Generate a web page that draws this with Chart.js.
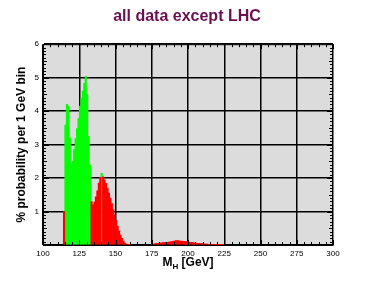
<!DOCTYPE html>
<html>
<head>
<meta charset="utf-8">
<script src="https://cdn.jsdelivr.net/npm/chart.js@4.4.1/dist/chart.umd.min.js"></script>
<style>
html,body{margin:0;padding:0;background:#fff;}
#c{display:block;}
</style>
</head>
<body>
<canvas id="c" width="374" height="289"></canvas>
<script>
// ---- data (bin lower edges in GeV, % probability per 1 GeV bin) ----
const binStart = [114,115,116,117,118,119,120,121,122,123,124,125,126,127,128,129,130,131,132,133,134,135,136,137,138,139,140,141,142,143,144,145,146,147,148,149,150,151,152,153,154,155,156,157,158,159,
  175,176,177,178,179,180,181,182,183,184,185,186,187,188,189,190,191,192,193,194,195,196,197,198,199,200,201,202,203,204,205,206,207,208,209,210,211,212,213,214,215,216,217,218,219,220,221,222,223,224];
const redProb = [1.0,null,null,null,null,null,null,null,null,null,null,null,null,null,null,null,null,null,null,1.3,1.2,1.28,1.44,1.62,1.85,2.02,null,2.04,1.95,1.84,1.7,1.55,1.4,1.24,1.06,0.9,0.74,0.56,0.42,0.3,0.2,0.12,0.06,0.03,0.015,0.01,
  0.02,0.03,0.04,0.05,0.05,0.06,0.06,0.07,0.07,0.08,0.08,0.09,0.09,0.1,0.11,0.12,0.13,0.13,0.13,0.12,0.12,0.11,0.11,0.1,0.1,0.09,0.08,0.08,0.07,0.06,0.06,0.05,0.05,0.04,0.04,0.04,0.03,0.03,0.03,0.02,0.02,0.02,0.02,0.01,0.01,0.01,0.01,0.01,0.005,0.005];
const greenProb = [null,3.58,4.2,4.15,3.2,2.4,2.5,2.85,3.18,3.48,3.78,4.15,4.38,4.6,4.83,5.04,4.5,3.25,2.39,null,null,null,null,null,null,null,2.14,null,null,null,null,null,null,null,null,null,null,null,null,null,null,null,null,null,null,null,
  null,null,null,null,null,null,null,null,null,null,null,null,null,null,null,null,null,null,null,null,null,null,null,null,null,null,null,null,null,null,null,null,null,null,null,null,null,null,null,null,null,null,null,null,null,null,null,null,null,null];
const xTicks = [100,125,150,175,200,225,250,275,300];
const yTicks = [0,1,2,3,4,5,6];

const redPts = [], greenPts = [];
binStart.forEach((b,i)=>{
  redPts.push({x:b+0.5, y:redProb[i]});
  greenPts.push({x:b+0.5, y:greenProb[i]});
});

const FONT = "'Liberation Sans', Arial, Helvetica, sans-serif";

const bgPlugin = {
  id:'bg',
  beforeDraw(chart){
    const {ctx, chartArea:a} = chart;
    ctx.save();
    ctx.fillStyle = '#fff';
    ctx.fillRect(0,0,chart.width,chart.height);
    ctx.fillStyle = '#dcdcdc';
    ctx.fillRect(a.left,a.top,a.right-a.left,a.bottom-a.top);
    ctx.restore();
  }
};

const decoPlugin = {
  id:'deco',
  afterDatasetsDraw(chart){
    const {ctx, chartArea:a, scales} = chart;
    const xs = scales.x, ys = scales.y;
    ctx.save();
    ctx.strokeStyle = '#000';
    ctx.lineWidth = 1;
    ctx.beginPath();
    // minor x ticks every 5 GeV, bottom and top
    for (let v = 100; v <= 300; v += 5) {
      const px = Math.round(xs.getPixelForValue(v)) + 0.5;
      const len = (v % 25 === 0) ? 5 : 3;
      ctx.moveTo(px, a.bottom); ctx.lineTo(px, a.bottom - len);
      ctx.moveTo(px, a.top); ctx.lineTo(px, a.top + len);
    }
    // minor y ticks every 0.1, left and right
    for (let k = 0; k <= 60; k++) {
      const v = k/10;
      const py = Math.round(ys.getPixelForValue(v)) + 0.5;
      const len = (k % 10 === 0) ? 6 : (k % 5 === 0 ? 4 : 3);
      ctx.moveTo(a.left, py); ctx.lineTo(a.left + len, py);
      ctx.moveTo(a.right, py); ctx.lineTo(a.right - len, py);
    }
    ctx.stroke();
    ctx.lineWidth = 1;
    ctx.strokeRect(a.left+0.5, a.top+0.5, a.right-a.left-1, a.bottom-a.top);
    ctx.restore();
  },
  afterDraw(chart){
    const {ctx, chartArea:a} = chart;
    ctx.save();
    ctx.fillStyle = '#000';
    ctx.textBaseline = 'alphabetic';
    const big = "bold 12px " + FONT, small = "bold 8px " + FONT;
    ctx.font = big; const wM = ctx.measureText('M').width; const wG = ctx.measureText(' [GeV]').width;
    ctx.font = small; const wH = ctx.measureText('H').width;
    const total = wM + wH + wG;
    let x = (a.left + a.right)/2 - total/2;
    const yb = 266;
    ctx.font = big; ctx.fillText('M', x, yb); x += wM;
    ctx.font = small; ctx.fillText('H', x, yb + 3); x += wH;
    ctx.font = big; ctx.fillText(' [GeV]', x, yb);
    ctx.restore();
  }
};

new Chart(document.getElementById('c'), {
  type:'bar',
  data:{
    datasets:[
      {label:'red', data:redPts, backgroundColor:'#ff0000', borderWidth:0, grouped:false, barPercentage:1, categoryPercentage:1},
      {label:'green', data:greenPts, backgroundColor:'#00ff00', borderWidth:0, grouped:false, barPercentage:1, categoryPercentage:1}
    ]
  },
  options:{
    responsive:false,
    animation:false,
    devicePixelRatio:1,
    layout:{padding:{left:0,right:0,top:0,bottom:0}},
    plugins:{
      legend:{display:false},
      tooltip:{enabled:false},
      title:{display:true, text:'all data except LHC', color:'#6c0f50',
        font:{family:FONT, size:16, weight:'bold'}, padding:{top:7,bottom:18}}
    },
    scales:{
      x:{type:'linear', min:100, max:300, offset:false,
        afterBuildTicks(s){ s.ticks = xTicks.map(v=>({value:v})); },
        afterFit(s){ s.height = 44; },
        grid:{color:'#000', lineWidth:1.5, drawTicks:false, offset:false},
        border:{display:true, color:'#000', width:1},
        ticks:{font:{family:FONT,size:8}, color:'#000', padding:4, maxRotation:0, autoSkip:false}
      },
      y:{type:'linear', min:0, max:6,
        afterBuildTicks(s){ s.ticks = yTicks.map(v=>({value:v})); },
        afterFit(s){ s.width = 43; },
        grid:{color:'#000', lineWidth:1.5, drawTicks:false},
        border:{display:true, color:'#000', width:1},
        ticks:{font:{family:FONT,size:8}, color:'#000', padding:4,
          callback:(v)=> v===0 ? '' : String(v)},
        title:{display:true, text:'% probability per 1 GeV bin', color:'#000',
          font:{family:FONT,size:12,weight:'bold'}, padding:{top:14,bottom:0}}
      },
      yr:{type:'linear', position:'right', min:0, max:6, display:true,
        afterFit(s){ s.width = 41; },
        grid:{display:false}, border:{display:false}, ticks:{display:false}
      }
    }
  },
  plugins:[bgPlugin, decoPlugin]
});
</script>
</body>
</html>
